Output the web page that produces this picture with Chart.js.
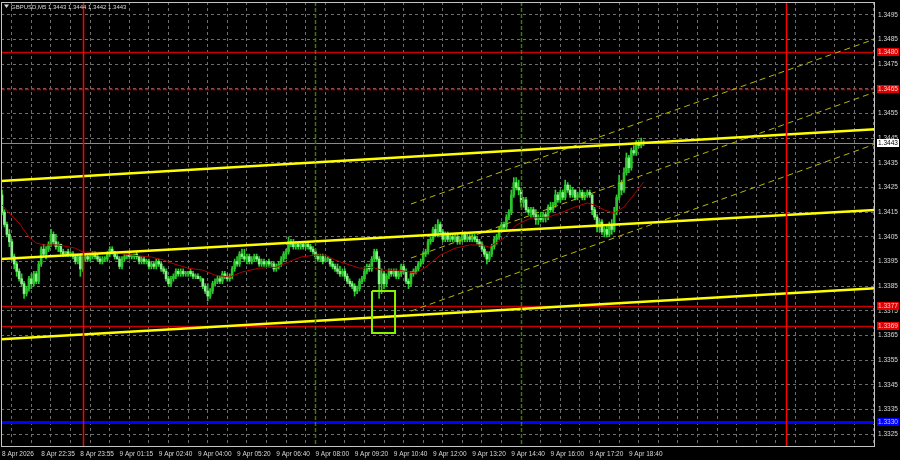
<!DOCTYPE html>
<html>
<head>
<meta charset="utf-8">
<title>GBPUSD,M5</title>
<script src="https://cdn.jsdelivr.net/npm/chart.js@4.4.1/dist/chart.umd.min.js"></script>
<style>
  html, body { margin: 0; padding: 0; background: #000; }
  #c { display: block; }
</style>
</head>
<body>
<canvas id="c" width="900" height="460"></canvas>
<script>
// GBPUSD M5 — velas de 5 minutos, 8 Apr 21:15 .. 9 Apr 19:10 (índice de barra en el eje X)

const symbol = 'GBPUSD,M5';

const opens = [
  1.3422,1.3415,1.3410,1.3406,1.3403,1.3397,1.3394,1.3391,1.3388,1.3386,
  1.3382,1.3384,1.3388,1.3386,1.3390,1.3387,1.3394,1.3400,1.3398,1.3400,
  1.3402,1.3406,1.3403,1.3401,1.3402,1.3399,1.3398,1.3399,1.3398,1.3398,
  1.3397,1.3395,1.3397,1.3392,1.3396,1.3397,1.3396,1.3397,1.3398,1.3397,
  1.3396,1.3395,1.3396,1.3396,1.3398,1.3400,1.3399,1.3397,1.3396,1.3393,
  1.3396,1.3397,1.3398,1.3397,1.3397,1.3398,1.3397,1.3395,1.3396,1.3395,
  1.3395,1.3393,1.3394,1.3393,1.3395,1.3394,1.3392,1.3391,1.3388,1.3386,
  1.3388,1.3389,1.3391,1.3390,1.3391,1.3390,1.3390,1.3391,1.3390,1.3389,
  1.3389,1.3388,1.3388,1.3385,1.3383,1.3381,1.3383,1.3386,1.3387,1.3388,
  1.3387,1.3390,1.3389,1.3388,1.3389,1.3392,1.3395,1.3394,1.3398,1.3397,
  1.3396,1.3397,1.3395,1.3396,1.3397,1.3396,1.3394,1.3395,1.3394,1.3395,
  1.3394,1.3394,1.3392,1.3393,1.3394,1.3396,1.3398,1.3399,1.3403,1.3402,
  1.3401,1.3402,1.3401,1.3402,1.3401,1.3402,1.3401,1.3400,1.3399,1.3397,
  1.3396,1.3397,1.3395,1.3396,1.3396,1.3394,1.3393,1.3392,1.3391,1.3390,
  1.3391,1.3389,1.3387,1.3386,1.3385,1.3383,1.3384,1.3387,1.3388,1.3391,
  1.3393,1.3392,1.3396,1.3399,1.3396,1.3386,1.3390,1.3386,1.3389,1.3391,
  1.3390,1.3391,1.3389,1.3390,1.3393,1.3391,1.3387,1.3386,1.3390,1.3391,
  1.3392,1.3394,1.3395,1.3398,1.3399,1.3403,1.3404,1.3408,1.3406,1.3410,
  1.3407,1.3404,1.3406,1.3404,1.3405,1.3404,1.3405,1.3403,1.3404,1.3406,
  1.3404,1.3405,1.3404,1.3405,1.3404,1.3403,1.3402,1.3400,1.3398,1.3396,
  1.3398,1.3401,1.3404,1.3405,1.3408,1.3410,1.3409,1.3413,1.3415,1.3422,
  1.3427,1.3425,1.3424,1.3419,1.3420,1.3416,1.3415,1.3416,1.3414,1.3412,
  1.3413,1.3412,1.3414,1.3413,1.3417,1.3416,1.3418,1.3422,1.3420,1.3423,
  1.3421,1.3426,1.3424,1.3422,1.3424,1.3421,1.3422,1.3423,1.3421,1.3422,
  1.3423,1.3422,1.3416,1.3413,1.3409,1.3411,1.3407,1.3408,1.3406,1.3410,
  1.3408,1.3415,1.3421,1.3427,1.3424,1.3431,1.3437,1.3433,1.3440,1.3439,
  1.3443,1.3442,1.3443
];

const highs = [
  1.3424,1.3416,1.3411,1.3408,1.3404,1.3398,1.3395,1.3392,1.3390,1.3387,
  1.3385,1.3389,1.3390,1.3391,1.3391,1.3395,1.3401,1.3402,1.3401,1.3403,
  1.3408,1.3407,1.3406,1.3403,1.3402,1.3400,1.3399,1.3400,1.3399,1.3399,
  1.3398,1.3398,1.3398,1.3397,1.3398,1.3398,1.3398,1.3399,1.3399,1.3398,
  1.3397,1.3397,1.3397,1.3399,1.3401,1.3401,1.3399,1.3398,1.3397,1.3397,
  1.3398,1.3398,1.3399,1.3398,1.3398,1.3399,1.3397,1.3397,1.3397,1.3396,
  1.3396,1.3395,1.3395,1.3396,1.3396,1.3395,1.3393,1.3392,1.3389,1.3389,
  1.3390,1.3392,1.3392,1.3392,1.3392,1.3391,1.3391,1.3392,1.3391,1.3390,
  1.3390,1.3389,1.3388,1.3386,1.3386,1.3384,1.3387,1.3388,1.3389,1.3389,
  1.3391,1.3391,1.3390,1.3390,1.3393,1.3396,1.3397,1.3399,1.3400,1.3400,
  1.3398,1.3398,1.3397,1.3398,1.3398,1.3397,1.3396,1.3396,1.3395,1.3396,
  1.3395,1.3395,1.3394,1.3395,1.3397,1.3399,1.3400,1.3405,1.3404,1.3404,
  1.3403,1.3403,1.3403,1.3403,1.3403,1.3403,1.3402,1.3401,1.3400,1.3398,
  1.3398,1.3398,1.3397,1.3397,1.3396,1.3395,1.3394,1.3394,1.3393,1.3392,
  1.3392,1.3390,1.3388,1.3387,1.3386,1.3385,1.3388,1.3389,1.3392,1.3394,
  1.3394,1.3397,1.3400,1.3400,1.3397,1.3392,1.3391,1.3390,1.3392,1.3392,
  1.3392,1.3392,1.3391,1.3394,1.3394,1.3392,1.3388,1.3391,1.3392,1.3393,
  1.3395,1.3396,1.3399,1.3400,1.3404,1.3405,1.3409,1.3410,1.3412,1.3411,
  1.3408,1.3407,1.3407,1.3406,1.3406,1.3406,1.3406,1.3405,1.3407,1.3407,
  1.3406,1.3406,1.3406,1.3406,1.3405,1.3404,1.3403,1.3401,1.3399,1.3399,
  1.3402,1.3405,1.3406,1.3409,1.3411,1.3411,1.3414,1.3416,1.3424,1.3429,
  1.3429,1.3428,1.3425,1.3421,1.3421,1.3417,1.3417,1.3417,1.3416,1.3414,
  1.3415,1.3415,1.3415,1.3418,1.3419,1.3419,1.3424,1.3423,1.3424,1.3424,
  1.3428,1.3427,1.3426,1.3425,1.3424,1.3423,1.3424,1.3424,1.3423,1.3424,
  1.3424,1.3422,1.3417,1.3414,1.3412,1.3412,1.3409,1.3410,1.3411,1.3412,
  1.3417,1.3422,1.3430,1.3428,1.3433,1.3439,1.3438,1.3441,1.3442,1.3444,
  1.3444,1.3445,1.3444
];

const lows = [
  1.3414,1.3409,1.3405,1.3401,1.3395,1.3392,1.3389,1.3387,1.3385,1.3380,
  1.3381,1.3383,1.3384,1.3385,1.3386,1.3386,1.3393,1.3397,1.3396,1.3399,
  1.3401,1.3402,1.3400,1.3399,1.3398,1.3397,1.3397,1.3397,1.3397,1.3396,
  1.3394,1.3394,1.3389,1.3391,1.3395,1.3395,1.3395,1.3396,1.3396,1.3395,
  1.3394,1.3394,1.3395,1.3395,1.3397,1.3398,1.3396,1.3396,1.3392,1.3392,
  1.3395,1.3396,1.3396,1.3396,1.3396,1.3396,1.3394,1.3394,1.3394,1.3394,
  1.3392,1.3392,1.3392,1.3392,1.3393,1.3391,1.3390,1.3387,1.3385,1.3385,
  1.3387,1.3388,1.3389,1.3389,1.3389,1.3389,1.3389,1.3389,1.3388,1.3388,
  1.3388,1.3387,1.3384,1.3382,1.3379,1.3380,1.3382,1.3385,1.3386,1.3386,
  1.3386,1.3388,1.3387,1.3387,1.3388,1.3391,1.3393,1.3393,1.3396,1.3395,
  1.3394,1.3394,1.3394,1.3395,1.3395,1.3393,1.3393,1.3393,1.3393,1.3393,
  1.3393,1.3391,1.3391,1.3392,1.3393,1.3395,1.3396,1.3398,1.3401,1.3400,
  1.3400,1.3400,1.3400,1.3400,1.3400,1.3400,1.3399,1.3398,1.3396,1.3395,
  1.3395,1.3394,1.3395,1.3395,1.3393,1.3392,1.3391,1.3390,1.3389,1.3389,
  1.3388,1.3386,1.3385,1.3384,1.3381,1.3382,1.3383,1.3386,1.3387,1.3390,
  1.3391,1.3391,1.3395,1.3395,1.3380,1.3382,1.3384,1.3385,1.3388,1.3389,
  1.3389,1.3388,1.3388,1.3389,1.3390,1.3386,1.3384,1.3385,1.3389,1.3390,
  1.3391,1.3393,1.3394,1.3397,1.3398,1.3402,1.3403,1.3405,1.3405,1.3406,
  1.3403,1.3403,1.3403,1.3403,1.3403,1.3403,1.3402,1.3402,1.3403,1.3403,
  1.3403,1.3403,1.3403,1.3403,1.3402,1.3401,1.3399,1.3397,1.3394,1.3395,
  1.3397,1.3400,1.3402,1.3404,1.3407,1.3408,1.3408,1.3412,1.3414,1.3421,
  1.3424,1.3422,1.3417,1.3417,1.3415,1.3414,1.3413,1.3413,1.3410,1.3410,
  1.3411,1.3411,1.3411,1.3412,1.3415,1.3415,1.3417,1.3419,1.3419,1.3420,
  1.3420,1.3423,1.3421,1.3421,1.3420,1.3420,1.3421,1.3420,1.3420,1.3421,
  1.3421,1.3414,1.3412,1.3407,1.3407,1.3406,1.3405,1.3405,1.3405,1.3406,
  1.3407,1.3414,1.3420,1.3422,1.3423,1.3430,1.3431,1.3432,1.3438,1.3438,
  1.3441,1.3441,1.3442
];

const closes = [
  1.3415,1.3410,1.3406,1.3403,1.3397,1.3394,1.3391,1.3388,1.3386,1.3382,
  1.3384,1.3388,1.3386,1.3390,1.3387,1.3394,1.3400,1.3398,1.3400,1.3402,
  1.3406,1.3403,1.3401,1.3402,1.3399,1.3398,1.3399,1.3398,1.3398,1.3397,
  1.3395,1.3397,1.3392,1.3396,1.3397,1.3396,1.3397,1.3398,1.3397,1.3396,
  1.3395,1.3396,1.3396,1.3398,1.3400,1.3399,1.3397,1.3396,1.3393,1.3396,
  1.3397,1.3398,1.3397,1.3397,1.3398,1.3397,1.3395,1.3396,1.3395,1.3395,
  1.3393,1.3394,1.3393,1.3395,1.3394,1.3392,1.3391,1.3388,1.3386,1.3388,
  1.3389,1.3391,1.3390,1.3391,1.3390,1.3390,1.3391,1.3390,1.3389,1.3389,
  1.3388,1.3388,1.3385,1.3383,1.3381,1.3383,1.3386,1.3387,1.3388,1.3387,
  1.3390,1.3389,1.3388,1.3389,1.3392,1.3395,1.3394,1.3398,1.3397,1.3396,
  1.3397,1.3395,1.3396,1.3397,1.3396,1.3394,1.3395,1.3394,1.3395,1.3394,
  1.3394,1.3392,1.3393,1.3394,1.3396,1.3398,1.3399,1.3403,1.3402,1.3401,
  1.3402,1.3401,1.3402,1.3401,1.3402,1.3401,1.3400,1.3399,1.3397,1.3396,
  1.3397,1.3395,1.3396,1.3396,1.3394,1.3393,1.3392,1.3391,1.3390,1.3391,
  1.3389,1.3387,1.3386,1.3385,1.3383,1.3384,1.3387,1.3388,1.3391,1.3393,
  1.3392,1.3396,1.3399,1.3396,1.3386,1.3390,1.3386,1.3389,1.3391,1.3390,
  1.3391,1.3389,1.3390,1.3393,1.3391,1.3387,1.3386,1.3390,1.3391,1.3392,
  1.3394,1.3395,1.3398,1.3399,1.3403,1.3404,1.3408,1.3406,1.3410,1.3407,
  1.3404,1.3406,1.3404,1.3405,1.3404,1.3405,1.3403,1.3404,1.3406,1.3404,
  1.3405,1.3404,1.3405,1.3404,1.3403,1.3402,1.3400,1.3398,1.3396,1.3398,
  1.3401,1.3404,1.3405,1.3408,1.3410,1.3409,1.3413,1.3415,1.3422,1.3427,
  1.3425,1.3424,1.3419,1.3420,1.3416,1.3415,1.3416,1.3414,1.3412,1.3413,
  1.3412,1.3414,1.3413,1.3417,1.3416,1.3418,1.3422,1.3420,1.3423,1.3421,
  1.3426,1.3424,1.3422,1.3424,1.3421,1.3422,1.3423,1.3421,1.3422,1.3423,
  1.3422,1.3416,1.3413,1.3409,1.3411,1.3407,1.3408,1.3406,1.3410,1.3408,
  1.3415,1.3421,1.3427,1.3424,1.3431,1.3437,1.3433,1.3440,1.3439,1.3443,
  1.3442,1.3443,1.3443
];

const maIdx = [0,3,7,11,14,17,23,30,33,40,47,53,61,66,69,76,82,87,93,98,
  105,112,117,122,128,132,136,142,146,151,155,162,169,173,179,185,191,196,199,205,
  210,216,223,228,234,239,242,246,250,254,258,262];
const maVals = [1.3418,1.34146,1.34106,1.34049,1.34025,1.34017,1.34017,1.34004,1.33988,1.33988,
  1.33984,1.33976,1.33968,1.33956,1.33944,1.33923,1.33915,1.33895,1.33887,1.33907,
  1.33923,1.33927,1.33948,1.33968,1.33976,1.33976,1.33956,1.33936,1.33923,1.33927,
  1.33915,1.33915,1.33903,1.33927,1.33976,1.34004,1.34017,1.34017,1.34008,1.34045,
  1.34098,1.34126,1.3413,1.34146,1.34171,1.34187,1.34179,1.34159,1.34146,1.34171,
  1.3422,1.34272];

// líneas dibujadas a mano (extremos en índice de barra / precio)
const trendX = [-0.41, 356.5];
const trendUpper = [1.34276, 1.34486];
const trendMiddle = [1.33960, 1.34159];
const trendLower = [1.33635, 1.33842];
const channelX = [167, 356.5];
const channelUpper = [1.34183, 1.34852];
const channelMid = [1.33964, 1.34637];
const channelLower = [1.33749, 1.34426];
const boxX = [151.1, 160.5];
const boxY = [1.3366, 1.3383];

// niveles horizontales y separadores verticales
const redLevels = [1.3480, 1.3465, 1.3377, 1.3369];
const blueLevel = 1.3330;
const bidLevel = 1.3443;
const dayBreaks = [33, 320];
const sessionMarks = [128, 212];

// etiquetas del eje de tiempo (una cada 16 barras) y del eje de precio
const timeLabels = ['8 Apr 2026', '8 Apr 22:35', '8 Apr 23:55', '9 Apr 01:15', '9 Apr 02:40',
  '9 Apr 04:00', '9 Apr 05:20', '9 Apr 06:40', '9 Apr 08:00', '9 Apr 09:20', '9 Apr 10:40',
  '9 Apr 12:00', '9 Apr 13:20', '9 Apr 14:40', '9 Apr 16:00', '9 Apr 17:20', '9 Apr 18:40'];
const priceTicks = [1.3325, 1.3335, 1.3345, 1.3355, 1.3365, 1.3375, 1.3385, 1.3395, 1.3405,
  1.3415, 1.3425, 1.3435, 1.3445, 1.3455, 1.3465, 1.3475, 1.3485, 1.3495];

const X_MIN = -0.41, X_MAX = 356.5;
const Y_MIN = 1.33198, Y_MAX = 1.35002;

const FONT = "'Liberation Sans', Arial, sans-serif";
const UP = '#2cc42c', DOWN = '#8cf08c', WICK = '#2ad02a';

const wickData = opens.map((o, i) => ({ x: i, y: [lows[i], highs[i]] }));
const bodyData = opens.map((o, i) => ({ x: i, y: [o, closes[i]] }));
const bodyColors = opens.map((o, i) => closes[i] >= o ? UP : DOWN);

const seg = (xs, ys) => xs.map((x, i) => ({ x, y: ys[i] }));
const lineDs = (data, color, width, dash, order) => ({
  type: 'line', data, borderColor: color, borderWidth: width, borderDash: dash || [],
  pointRadius: 0, fill: false, tension: 0, order
});

const levels = {
  id: 'levels',
  beforeDraw(chart) {
    const { ctx, width, height } = chart;
    ctx.save();
    ctx.fillStyle = '#000';
    ctx.fillRect(0, 0, width, height);
    ctx.restore();
  },
  beforeDatasetsDraw(chart) {
    const { ctx, chartArea: a, scales: { y } } = chart;
    ctx.save();
    const hline = (v, color, w, dash) => {
      const py = Math.round(y.getPixelForValue(v)) + 0.5;
      ctx.strokeStyle = color; ctx.lineWidth = w; ctx.setLineDash(dash || []);
      ctx.beginPath(); ctx.moveTo(a.left, py); ctx.lineTo(a.right, py); ctx.stroke();
    };
    redLevels.forEach(v => hline(v, '#c80000', 1.5, v === 1.3465 ? [4, 2] : []));
    hline(blueLevel, '#0000ff', 3);
    hline(bidLevel, '#8a8a8a', 1);
    ctx.restore();
  },
  afterDatasetsDraw(chart) {
    const { ctx, chartArea: a, scales: { x } } = chart;
    ctx.save();
    const vline = (i, color, w, dash) => {
      const px = Math.round(x.getPixelForValue(i)) + 0.5;
      ctx.strokeStyle = color; ctx.lineWidth = w; ctx.setLineDash(dash || []);
      ctx.beginPath(); ctx.moveTo(px, a.top); ctx.lineTo(px, a.bottom); ctx.stroke();
    };
    sessionMarks.forEach(i => vline(i, '#3d7a00', 1.5, [4, 2]));
    dayBreaks.forEach(i => vline(i, '#ff0000', 1.5));
    // marco del área de trazado
    ctx.setLineDash([]);
    ctx.strokeStyle = '#c4c4c4'; ctx.lineWidth = 1;
    ctx.strokeRect(a.left + 0.5, a.top + 0.5, a.right - a.left - 1, a.bottom - a.top - 1);
    ctx.restore();
  },
  afterDraw(chart) {
    const { ctx, chartArea: a, scales: { y } } = chart;
    ctx.save();
    ctx.font = '6.5px ' + FONT;
    ctx.textBaseline = 'middle';
    const tag = (v, bg, fg) => {
      const py = Math.round(y.getPixelForValue(v));
      ctx.fillStyle = bg;
      ctx.fillRect(a.right + 2, py - 4, 22, 8);
      ctx.fillStyle = fg;
      ctx.fillText(v.toFixed(4), a.right + 3, py + 0.5);
    };
    redLevels.forEach(v => tag(v, '#e00000', '#ffd0d0'));
    tag(blueLevel, '#0000ff', '#c8c8ff');
    tag(bidLevel, '#ffffff', '#000000');

    // cabecera: símbolo y OHLC de la última barra
    const n = closes.length - 1;
    ctx.fillStyle = '#d8d8d8';
    ctx.beginPath(); ctx.moveTo(4, 4.5); ctx.lineTo(9, 4.5); ctx.lineTo(6.5, 8); ctx.closePath(); ctx.fill();
    ctx.font = '6px ' + FONT;
    ctx.textBaseline = 'alphabetic';
    ctx.fillText(`${symbol} ${opens[n].toFixed(4)} ${highs[n].toFixed(4)} ${lows[n].toFixed(4)} ${closes[n].toFixed(4)}`, 11, 9);
    ctx.restore();
  }
};

new Chart('c', {
  type: 'bar',
  data: {
    datasets: [
      { type: 'bar', data: wickData, backgroundColor: WICK, barThickness: 1, grouped: false, order: 10 },
      { type: 'bar', data: bodyData, backgroundColor: bodyColors, barThickness: 2, minBarLength: 1, grouped: false, order: 9 },
      lineDs(seg(maIdx, maVals), '#b00000', 1, null, 5),
      lineDs(seg(channelX, channelUpper), '#b8b800', 1, [6, 4], 4),
      lineDs(seg(channelX, channelMid), '#b8b800', 1, [6, 4], 4),
      lineDs(seg(channelX, channelLower), '#b8b800', 1, [6, 4], 4),
      lineDs(seg(trendX, trendUpper), '#ffff00', 2.5, null, 3),
      lineDs(seg(trendX, trendMiddle), '#ffff00', 2.5, null, 3),
      lineDs(seg(trendX, trendLower), '#ffff00', 2.5, null, 3),
      lineDs([{ x: boxX[0], y: boxY[1] }, { x: boxX[1], y: boxY[1] }, { x: boxX[1], y: boxY[0] },
              { x: boxX[0], y: boxY[0] }, { x: boxX[0], y: boxY[1] }], '#8cf000', 2, null, 1)
    ]
  },
  options: {
    responsive: false,
    animation: false,
    devicePixelRatio: 1,
    layout: { padding: { left: 1, top: 2, right: 0, bottom: 0 } },
    plugins: { legend: { display: false }, tooltip: { enabled: false } },
    scales: {
      x: {
        type: 'linear', min: X_MIN, max: X_MAX, offset: false,
        grid: { color: '#6e6e6e', drawTicks: false },
        border: { display: false, dash: [3, 3] },
        afterBuildTicks: s => { s.ticks = Array.from({ length: 45 }, (_, k) => ({ value: k * 8 })); },
        afterFit: s => { s.height = 13; s.paddingLeft = 0; s.paddingRight = 0; },
        ticks: {
          autoSkip: false, maxRotation: 0, align: 'start', padding: 3,
          color: '#d8d8d8', font: { family: FONT, size: 6.5 },
          callback: v => (v % 16 === 0 && timeLabels[v / 16]) ? timeLabels[v / 16] : ''
        }
      },
      y: {
        type: 'linear', position: 'right', min: Y_MIN, max: Y_MAX,
        grid: { color: '#6e6e6e', drawTicks: false },
        border: { display: false, dash: [3, 3] },
        afterBuildTicks: s => { s.ticks = priceTicks.map(v => ({ value: v })); },
        afterFit: s => { s.width = 25; s.paddingTop = 0; s.paddingBottom = 0; },
        ticks: {
          padding: 3, color: '#d8d8d8', font: { family: FONT, size: 6.5 },
          callback: v => v.toFixed(4)
        }
      }
    }
  },
  plugins: [levels]
});
</script>
</body>
</html>
